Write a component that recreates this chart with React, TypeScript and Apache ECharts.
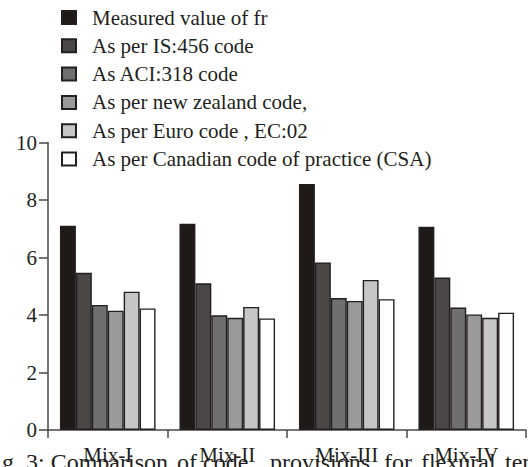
import React, { useEffect, useRef } from "react";
import * as echarts from "echarts";

const categories = ["Mix-I", "Mix-II", "Mix-III", "Mix-IV"];
const seriesNames = [
  "Measured value of fr",
  "As per IS:456 code",
  "As ACI:318 code",
  "As per new zealand code,",
  "As per Euro code , EC:02",
  "As per Canadian code of practice (CSA)",
];
const measured = [7.1, 7.17, 8.56, 7.07];
const is456 = [5.47, 5.1, 5.83, 5.3];
const aci318 = [4.35, 3.99, 4.59, 4.26];
const newZealand = [4.15, 3.9, 4.49, 4.02];
const euro = [4.81, 4.28, 5.22, 3.9];
const csa = [4.23, 3.88, 4.55, 4.08];
const yTicks = [0, 2, 4, 6, 8, 10];
const captionWords = ["Fig. 3: Comparison", "of", "code", "provisions", "for", "flexural", "tensile strength"];
const captionX = [-18, 177, 203, 270, 384, 421, 505];

const colors = ["#1f1a17", "#4b4747", "#6f6f6f", "#9a9a9a", "#c6c6c6", "#ffffff"];
const FONT = "Times New Roman, Liberation Serif, DejaVu Serif, serif";
const INK = "#231f20";

export default function App() {
  const ref = useRef<HTMLDivElement>(null);
  useEffect(() => {
    document.body.style.margin = "0";
    if (!ref.current) return;
    const chart = echarts.init(ref.current, null, { renderer: "svg" });
    const allData = [measured, is456, aci318, newZealand, euro, csa];
    chart.setOption({
      animation: false,
      textStyle: { fontFamily: FONT },
      grid: { left: 48, right: 2, top: 142.5, bottom: 37, containLabel: false },
      legend: {
        orient: "vertical",
        left: 61,
        top: 7,
        padding: 0,
        itemWidth: 14,
        itemHeight: 13,
        itemGap: 7.3,
        icon: "rect",
        data: seriesNames,
        textStyle: {
          fontFamily: FONT,
          fontSize: 21,
          lineHeight: 21,
          color: INK,
          padding: [0, 0, 0, 11],
        },
      },
      xAxis: {
        type: "category",
        data: categories,
        axisLine: { lineStyle: { color: "#484848", width: 1.5 } },
        axisTick: { show: true, length: 8, lineStyle: { color: "#484848", width: 1.5 } },
        axisLabel: { fontFamily: FONT, fontSize: 21, color: INK, margin: 14 },
      },
      yAxis: {
        type: "value",
        min: yTicks[0],
        max: yTicks[yTicks.length - 1],
        interval: 2,
        splitLine: { show: false },
        axisLine: { show: true, lineStyle: { color: "#484848", width: 1.5 } },
        axisTick: { show: true, length: 9, lineStyle: { color: "#484848", width: 1.5 } },
        axisLabel: { fontFamily: FONT, fontSize: 21, color: INK, margin: 11 },
      },
      series: seriesNames.map((name, i) => ({
        name,
        type: "bar",
        data: allData[i],
        barGap: "0%",
        barCategoryGap: "20%",
        itemStyle: { color: colors[i], borderColor: INK, borderWidth: 1.4 },
      })),
      graphic: captionWords.map((w, i) => ({
        type: "text",
        x: captionX[i],
        y: 450,
        silent: true,
        style: {
          text: w,
          fontFamily: FONT,
          fontSize: 24,
          fill: INK,
          verticalAlign: "top",
        },
      })),
    });
    return () => chart.dispose();
  }, []);
  return (
    <div
      ref={ref}
      style={{ position: "fixed", left: 0, top: 0, width: 528, height: 467, background: "#fff" }}
    />
  );
}
